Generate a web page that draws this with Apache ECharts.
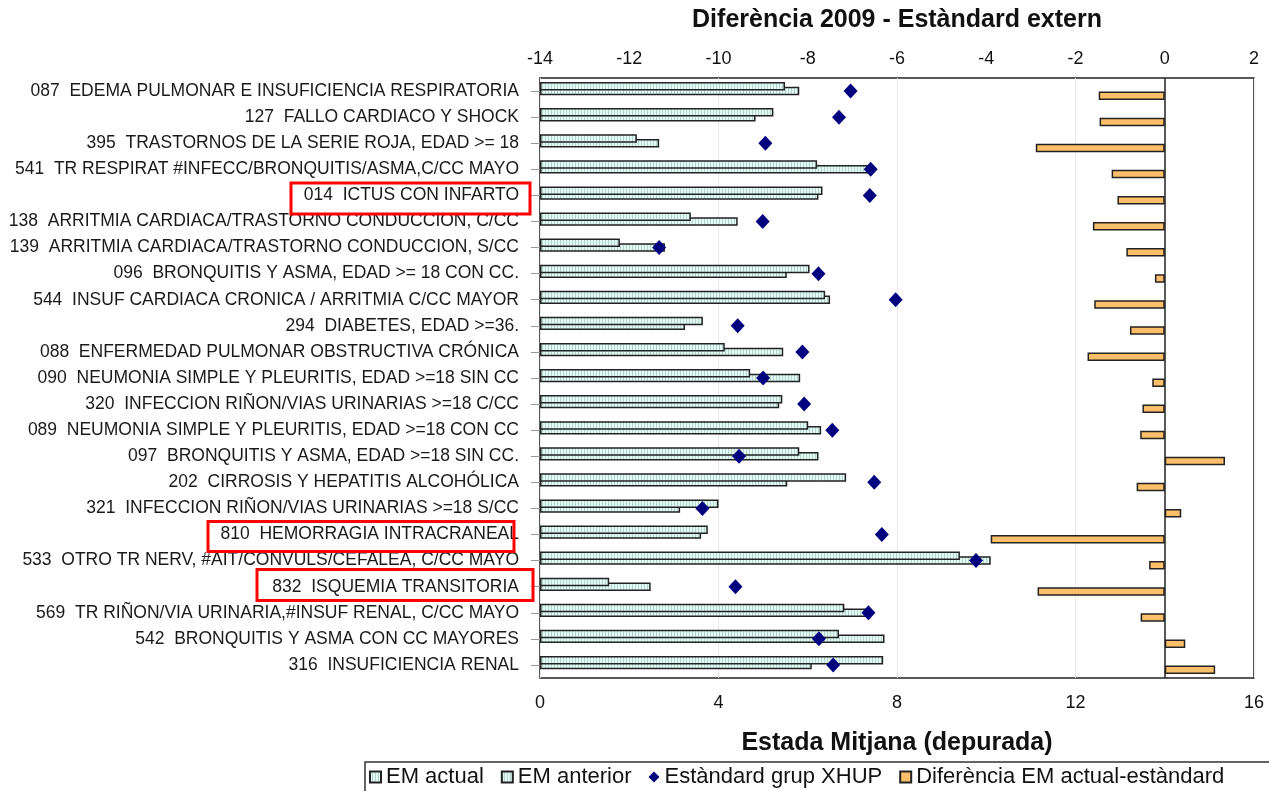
<!DOCTYPE html>
<html>
<head>
<meta charset="utf-8">
<script src="https://cdn.jsdelivr.net/npm/echarts@6/dist/echarts.min.js"></script>
<style>
  html, body { margin: 0; padding: 0; background: #fff; }
  #chart { width: 1269px; height: 791px; }
</style>
</head>
<body>
<div id="chart"></div>
<script>
// GRD categories, top to bottom
const categories = [
  '087  EDEMA PULMONAR E INSUFICIENCIA RESPIRATORIA',
  '127  FALLO CARDIACO Y SHOCK',
  '395  TRASTORNOS DE LA SERIE ROJA, EDAD >= 18',
  '541  TR RESPIRAT #INFECC/BRONQUITIS/ASMA,C/CC MAYO',
  '014  ICTUS CON INFARTO',
  '138  ARRITMIA CARDIACA/TRASTORNO CONDUCCION, C/CC',
  '139  ARRITMIA CARDIACA/TRASTORNO CONDUCCION, S/CC',
  '096  BRONQUITIS Y ASMA, EDAD >= 18 CON CC.',
  '544  INSUF CARDIACA CRONICA / ARRITMIA C/CC MAYOR',
  '294  DIABETES, EDAD >=36.',
  '088  ENFERMEDAD PULMONAR OBSTRUCTIVA CRÓNICA',
  '090  NEUMONIA SIMPLE Y PLEURITIS, EDAD >=18 SIN CC',
  '320  INFECCION RIÑON/VIAS URINARIAS >=18 C/CC',
  '089  NEUMONIA SIMPLE Y PLEURITIS, EDAD >=18 CON CC',
  '097  BRONQUITIS Y ASMA, EDAD >=18 SIN CC.',
  '202  CIRROSIS Y HEPATITIS ALCOHÓLICA',
  '321  INFECCION RIÑON/VIAS URINARIAS >=18 S/CC',
  '810  HEMORRAGIA INTRACRANEAL',
  '533  OTRO TR NERV, #AIT/CONVULS/CEFALEA, C/CC MAYO',
  '832  ISQUEMIA TRANSITORIA',
  '569  TR RIÑON/VIA URINARIA,#INSUF RENAL, C/CC MAYO',
  '542  BRONQUITIS Y ASMA CON CC MAYORES',
  '316  INSUFICIENCIA RENAL'
];

// Average stay (days), current year
const emActual = [5.49, 5.23, 2.17, 6.21, 6.33, 3.38, 1.79, 6.04, 6.39, 3.65, 4.14, 4.71,
                  5.43, 6.01, 5.81, 6.86, 4.00, 3.76, 9.41, 1.55, 6.82, 6.70, 7.69];
// Average stay (days), previous year
const emAnterior = [5.81, 4.83, 2.67, 7.36, 6.24, 4.43, 2.80, 5.53, 6.50, 3.25, 5.45, 5.83,
                    5.36, 6.30, 6.24, 5.54, 3.14, 3.61, 10.10, 2.48, 7.32, 7.72, 6.09];
// XHUP group standard
const estandard = [6.96, 6.70, 5.05, 7.41, 7.39, 4.99, 2.67, 6.24, 7.97, 4.43, 5.88, 5.00,
                   5.92, 6.55, 4.46, 7.49, 3.64, 7.66, 9.77, 4.38, 7.36, 6.25, 6.57];
// Difference current stay - standard (top axis)
const diferencia = [-1.48, -1.46, -2.89, -1.19, -1.06, -1.61, -0.86, -0.22, -1.58, -0.78, -1.73, -0.28,
                    -0.50, -0.55, 1.35, -0.63, 0.37, -3.90, -0.35, -2.85, -0.54, 0.46, 1.13];

// Highlighted categories (framed in red)
const highlighted = ['014', '810', '832'];

const seriesNames = ['EM actual', 'EM anterior', 'Estàndard grup XHUP', 'Diferència EM actual-estàndard'];
const titleTop = 'Diferència 2009 - Estàndard extern';
const titleBottom = 'Estada Mitjana (depurada)';

// Frame extents of the red boxes around highlighted labels
const boxLayout = {
  '014': { x0: 291, x1: 530, h: 31, dy: 3 },
  '810': { x0: 208, x1: 514, h: 30, dy: 2 },
  '832': { x0: 257, x1: 533, h: 31, dy: -1.8 }
};

const FONT = '"Liberation Sans", Arial, sans-serif';

// Light cyan fill with fine vertical hatching
function hatchPattern() {
  const c = document.createElement('canvas');
  c.width = 3; c.height = 4;
  const g = c.getContext('2d');
  g.fillStyle = '#e1fbf4';
  g.fillRect(0, 0, 3, 4);
  g.fillStyle = '#b6d4cc';
  g.fillRect(2, 0, 1, 4);
  return { image: c, repeat: 'repeat' };
}
const hatch = hatchPattern();

const chart = echarts.init(document.getElementById('chart'), null, { renderer: 'canvas' });

const barStyle = { color: hatch, borderColor: '#222', borderWidth: 1.5 };

chart.setOption({
  animation: false,
  backgroundColor: '#fff',
  textStyle: { fontFamily: FONT },
  grid: {
    left: 540, right: 15, top: 78, bottom: 113,
    outerBoundsMode: 'none', containLabel: false,
    show: true, borderColor: '#222', borderWidth: 1.5, backgroundColor: 'transparent'
  },
  legend: {
    left: 369, top: 764,
    padding: [2, 0, 2, 0],
    itemGap: 17,
    itemWidth: 11, itemHeight: 11,
    textStyle: { fontSize: 22, color: '#111', fontFamily: FONT },
    data: [
      { name: seriesNames[0], icon: 'rect' },
      { name: seriesNames[1], icon: 'rect' },
      { name: seriesNames[2], icon: 'diamond' },
      { name: seriesNames[3], icon: 'rect' }
    ]
  },
  xAxis: [
    {
      type: 'value', position: 'bottom', min: 0, max: 16, interval: 4,
      name: titleBottom, nameLocation: 'middle', nameGap: 53,
      nameTextStyle: { fontSize: 25, fontWeight: 'bold', color: '#111', fontFamily: FONT },
      axisLine: { show: false }, axisTick: { show: false },
      axisLabel: { fontSize: 18, color: '#111', margin: 16 },
      splitLine: { show: true, lineStyle: { color: '#e8e8e8', width: 1 } }
    },
    {
      type: 'value', position: 'top', min: -14, max: 2, interval: 2,
      name: titleTop, nameLocation: 'middle', nameGap: 45,
      nameTextStyle: { fontSize: 25, fontWeight: 'bold', color: '#111', fontFamily: FONT },
      axisLine: { show: false }, axisTick: { show: false },
      axisLabel: { fontSize: 18, color: '#111', margin: 10 },
      splitLine: { show: false }
    }
  ],
  yAxis: [
    {
      type: 'category', data: categories, inverse: true,
      axisLine: { show: false },
      axisTick: { show: true, alignWithLabel: true, length: 9, lineStyle: { color: '#999' } },
      axisLabel: { fontSize: 17.5, color: '#1a1a1a', margin: 21, interval: 0 },
      splitLine: { show: false }
    }
  ],
  series: [
    {
      name: seriesNames[0], type: 'bar', xAxisIndex: 0, yAxisIndex: 0,
      data: emActual, barWidth: 8.5, barGap: '-44%', z: 4,
      itemStyle: barStyle
    },
    {
      name: seriesNames[1], type: 'bar', xAxisIndex: 0, yAxisIndex: 0,
      data: emAnterior, barWidth: 8.5, barGap: '-44%', z: 3,
      itemStyle: barStyle
    },
    {
      name: seriesNames[3], type: 'bar', xAxisIndex: 1, yAxisIndex: 0,
      data: diferencia, barWidth: 8.5, barGap: '-44%', z: 3,
      itemStyle: { color: '#fdbf6a', borderColor: '#222', borderWidth: 1.5 },
      markLine: {
        silent: true, symbol: ['none', 'none'], label: { show: false },
        lineStyle: { color: '#222', width: 1.5, type: 'solid' },
        data: [{ xAxis: 0 }]
      }
    },
    {
      name: seriesNames[2], type: 'scatter', xAxisIndex: 0, yAxisIndex: 0,
      data: estandard, symbol: 'diamond', symbolSize: [14, 15], z: 6,
      itemStyle: { color: '#00007f', opacity: 1 }
    }
  ]
});

// Red frames around highlighted labels and the legend border
const graphics = [{
  type: 'rect', id: 'legend-frame', silent: true, z: 100,
  shape: { x: 365, y: 762, width: 920, height: 40 },
  style: { fill: 'none', stroke: '#333', lineWidth: 1.5 }
}];
categories.forEach(function (cat) {
  const code = cat.slice(0, 3);
  if (highlighted.indexOf(code) < 0) return;
  const b = boxLayout[code];
  const yc = chart.convertToPixel({ yAxisIndex: 0 }, cat) + b.dy;
  graphics.push({
    type: 'rect', id: 'box-' + code, silent: true, z: 100,
    shape: { x: b.x0, y: yc - b.h / 2, width: b.x1 - b.x0, height: b.h },
    style: { fill: 'none', stroke: '#ff0000', lineWidth: 3 }
  });
});
chart.setOption({ graphic: graphics });
</script>
</body>
</html>
